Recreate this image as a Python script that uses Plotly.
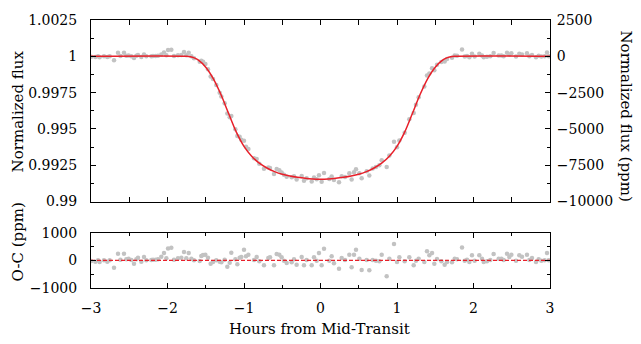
import plotly.graph_objects as go

# ---------------- data ----------------
# observation times (hours from mid-transit)
T_OBS = [
    -2.996, -2.943, -2.908, -2.887, -2.830, -2.787, -2.756, -2.699, -2.647, -2.615,
    -2.569, -2.538, -2.508, -2.473, -2.438, -2.407, -2.386, -2.342, -2.307, -2.277,
    -2.211, -2.190, -2.155, -2.124, -2.081, -2.046, -2.015, -1.993, -1.950, -1.915,
    -1.863, -1.819, -1.784, -1.754, -1.723, -1.688, -1.654, -1.579, -1.558, -1.536,
    -1.505, -1.471, -1.436, -1.405, -1.362, -1.318, -1.296, -1.253, -1.218, -1.187,
    -1.166, -1.113, -1.087, -1.057, -1.035, -1.000,
    -0.974, -0.943, -0.869, -0.834, -0.800, -0.739, -0.682, -0.660, -0.608, -0.573,
    -0.538, -0.508, -0.477, -0.442, -0.377, -0.346, -0.312, -0.246, -0.216, -0.181,
    -0.115, -0.085, -0.050, -0.020, 0.015, 0.046, 0.115, 0.146, 0.176, 0.242,
    0.277, 0.320, 0.377, 0.407, 0.438, 0.464, 0.508, 0.538, 0.604, 0.638,
    0.682, 0.725, 0.769, 0.800, 0.865, 0.900, 0.961,
    1.000, 1.031, 1.100, 1.161, 1.218, 1.248, 1.283, 1.357, 1.392, 1.423,
    1.458, 1.488, 1.523, 1.580, 1.623, 1.654, 1.719, 1.754, 1.784, 1.850,
    1.885, 1.915, 1.946, 1.980, 2.015, 2.076, 2.111, 2.133, 2.176, 2.220,
    2.263, 2.329, 2.364, 2.394, 2.438, 2.468, 2.495, 2.556, 2.599, 2.634,
    2.699, 2.730, 2.765, 2.817, 2.852, 2.887, 2.930, 2.961, 2.983,
]

# observed flux, as deviation from 1 in ppm
FLUX_PPM = [
    -24, -48, 0, -60, 0, -48, 0, -264, 240, 24,
    240, 36, 60, 12, -120, 36, 96, -48, 120, 0,
    12, 24, 24, 36, 132, 264, 72, 432, 456, 24,
    72, 96, 300, 72, 248, 4, -131, -379, -304, -378,
    -521, -886, -1382, -1570, -1968, -2500, -2774, -3237, -3944, -4199,
    -4106, -5019, -5491, -5545, -5737, -5816,
    -6233, -6384, -7017, -7077, -7396, -7741, -7651, -7682, -8100, -7761,
    -7848, -7998, -8160, -8286, -8333, -8253, -8475, -8248, -8569, -8397,
    -8618, -8339, -8464, -8193, -8638, -8033, -8450, -8280, -8519, -8671,
    -8262, -8300, -8057, -8484, -7990, -7779, -8046, -8400, -7918, -8205,
    -7723, -7620, -7498, -7156, -7624, -6820, -5877,
    -6260, -5788, -5256, -4337, -3896, -3338, -2811, -2083, -1314, -1186,
    -822, -966, -587, -386, -355, -191, -91, 60, 36, 468,
    -12, 24, -60, 180, -12, 180, 60, -60, -36, 12,
    228, 60, 60, 12, 240, 120, 204, -12, 180, 132,
    204, 12, 84, -60, 36, -12, 0, 264, 0,
]

# residuals O-C in ppm
RESID_PPM = [
    -24, -48, 0, -60, 0, -48, 0, -264, 240, 24,
    240, 36, 60, 12, -120, 36, 96, -48, 120, 0,
    12, 24, 24, 36, 132, 264, 72, 432, 456, 24,
    72, 96, 300, 72, 264, 60, 0, -24, 156, 192,
    204, 96, -120, -60, 0, -48, -72, 24, -228, -84,
    276, 36, -144, 96, 120, 384,
    144, 204, 12, 120, -36, -180, 84, 108, -180, 228,
    204, 108, -12, -96, -72, 36, -156, 120, -180, 12,
    -180, 108, -12, 264, -180, 420, -12, 144, -108, -300,
    84, 12, 204, -252, 204, 384, 60, -348, 12, -360,
    12, -12, -36, 204, -576, 60, 588,
    -60, 108, -36, 108, -180, -12, 60, -60, 324, 180,
    264, -120, 48, -36, -156, -60, -72, 60, 36, 468,
    -12, 24, -60, 180, -12, 180, 60, -60, -36, 12,
    228, 60, 60, 12, 240, 120, 204, -12, 180, 132,
    204, 12, 84, -60, 36, -12, 0, 264, 0,
]

# transit model curve (ppm)
MODEL_T = [-3.0, -1.75, -1.7, -1.65, -1.6, -1.5, -1.4, -1.3, -1.2, -1.1, -1.0,
           -0.9, -0.8, -0.7, -0.6, -0.5, -0.4, -0.3, -0.2, -0.1, 0.0,
           0.1, 0.2, 0.3, 0.4, 0.5, 0.6, 0.7, 0.8, 0.9,
           1.0, 1.1, 1.2, 1.3, 1.4, 1.5, 1.6, 1.65, 1.7, 1.75, 3.0]
MODEL_PPM = [0, 0, -30, -110, -250, -750, -1550, -2650, -3950, -5220, -6200,
             -6880, -7360, -7690, -7940, -8120, -8240, -8330, -8400, -8445, -8460,
             -8445, -8400, -8330, -8240, -8120, -7940, -7690, -7360, -6880,
             -6200, -5220, -3950, -2650, -1550, -750, -250, -110, -30, 0, 0]

# tick labels
X_TICKS = [-3, -2, -1, 0, 1, 2, 3]
X_LABELS = ["\u22123", "\u22122", "\u22121", "0", "1", "2", "3"]
YF_TICKS = [0.99, 0.9925, 0.995, 0.9975, 1.0, 1.0025]
YF_LABELS = ["0.99", "0.9925", "0.995", "0.9975", "1", "1.0025"]
YP_TICKS = [-10000, -7500, -5000, -2500, 0, 2500]
YP_LABELS = ["\u221210000", "\u22127500", "\u22125000", "\u22122500", "0", "2500"]
YR_TICKS = [-1000, 0, 1000]
YR_LABELS = ["\u22121000", "0", "1000"]

assert len(T_OBS) == len(FLUX_PPM) == len(RESID_PPM)

# ---------------- figure ----------------
FONT = "DejaVu Serif"
TS = 14   # tick labels
LS = 15   # axis titles
GRAY = "#c2c2c2"
RED = "#e8202a"

flux = [1 + v / 1e6 for v in FLUX_PPM]
zero = [m - m for m in MODEL_PPM]

fig = go.Figure()
fig.add_trace(go.Scatter(x=T_OBS, y=flux, mode="markers", xaxis="x", yaxis="y",
                         marker=dict(color=GRAY, size=4.5), showlegend=False))
fig.add_trace(go.Scatter(x=MODEL_T, y=MODEL_PPM, mode="lines", xaxis="x", yaxis="y2",
                         line=dict(color=RED, width=1.5, shape="spline", smoothing=0.8),
                         showlegend=False))
fig.add_trace(go.Scatter(x=T_OBS, y=RESID_PPM, mode="markers", xaxis="x2", yaxis="y3",
                         marker=dict(color=GRAY, size=4.5), showlegend=False))
fig.add_trace(go.Scatter(x=MODEL_T, y=zero, mode="lines", xaxis="x2", yaxis="y3",
                         line=dict(color=RED, width=1.3, dash="4px,2px"), showlegend=False))

axis_common = dict(showline=True, linecolor="black", linewidth=1, ticks="inside",
                   tickcolor="black", ticklen=5, tickwidth=1, showgrid=False,
                   zeroline=False, tickfont=dict(family=FONT, size=TS, color="black"))

top_dom = [0.3225, 1.0]
bot_dom = [0.0, 0.2065]

# the page body has an 8px margin, so the figure is 8px smaller and shifted
fig.update_layout(
    width=633, height=336,
    margin=dict(l=83, r=91, t=4, b=56),
    paper_bgcolor="white", plot_bgcolor="white",
    font=dict(family=FONT, size=TS, color="black"),
    xaxis=dict(domain=[0, 1], anchor="y", range=[-3, 3], tickmode="array",
               tickvals=X_TICKS, ticktext=X_LABELS, showticklabels=False,
               mirror="allticks", matches="x2",
               minor=dict(ticks="inside", dtick=0.5, tick0=0, ticklen=3,
                          tickcolor="black", showgrid=False),
               **axis_common),
    yaxis=dict(domain=top_dom, anchor="x", range=[0.99, 1.0025], tickmode="array",
               tickvals=YF_TICKS, ticktext=YF_LABELS, mirror=True,
               minor=dict(ticks="inside", dtick=0.00125, tick0=0.99, ticklen=3,
                          tickcolor="black", showgrid=False),
               ticklabelstandoff=10,
               **axis_common),
    yaxis2=dict(overlaying="y", side="right", anchor="x", range=[-10000, 2500],
                tickmode="array", tickvals=YP_TICKS, ticktext=YP_LABELS,
                minor=dict(ticks="inside", dtick=1250, tick0=0, ticklen=3,
                           tickcolor="black", showgrid=False),
                ticklabelstandoff=3,
                **axis_common),
    xaxis2=dict(domain=[0, 1], anchor="y3", range=[-3, 3], tickmode="array",
                tickvals=X_TICKS, ticktext=X_LABELS, mirror="allticks",
                minor=dict(ticks="inside", dtick=0.5, tick0=0, ticklen=3,
                           tickcolor="black", showgrid=False),
                ticklabelstandoff=7,
                **axis_common),
    yaxis3=dict(domain=bot_dom, anchor="x2", range=[-1000, 1000], tickmode="array",
                tickvals=YR_TICKS, ticktext=YR_LABELS, mirror="allticks",
                minor=dict(ticks="inside", dtick=500, tick0=0, ticklen=3,
                           tickcolor="black", showgrid=False),
                ticklabelstandoff=10,
                **axis_common),
    annotations=[
        dict(text="Normalized flux", xref="paper", yref="paper", x=-0.159, y=0.659,
             textangle=-90, showarrow=False, xanchor="center", yanchor="middle",
             font=dict(family=FONT, size=LS)),
        dict(text="O-C (ppm)", xref="paper", yref="paper", x=-0.159, y=0.170,
             textangle=-90, showarrow=False, xanchor="center", yanchor="middle",
             font=dict(family=FONT, size=LS)),
        dict(text="Normalized flux (ppm)", xref="paper", yref="paper", x=1.165, y=0.641,
             textangle=90, showarrow=False, xanchor="center", yanchor="middle",
             font=dict(family=FONT, size=LS)),
        dict(text="Hours from Mid-Transit", xref="paper", yref="paper", x=0.498, y=-0.152,
             showarrow=False, xanchor="center", yanchor="middle",
             font=dict(family=FONT, size=LS)),
    ],
)

fig.write_html("out.html")
